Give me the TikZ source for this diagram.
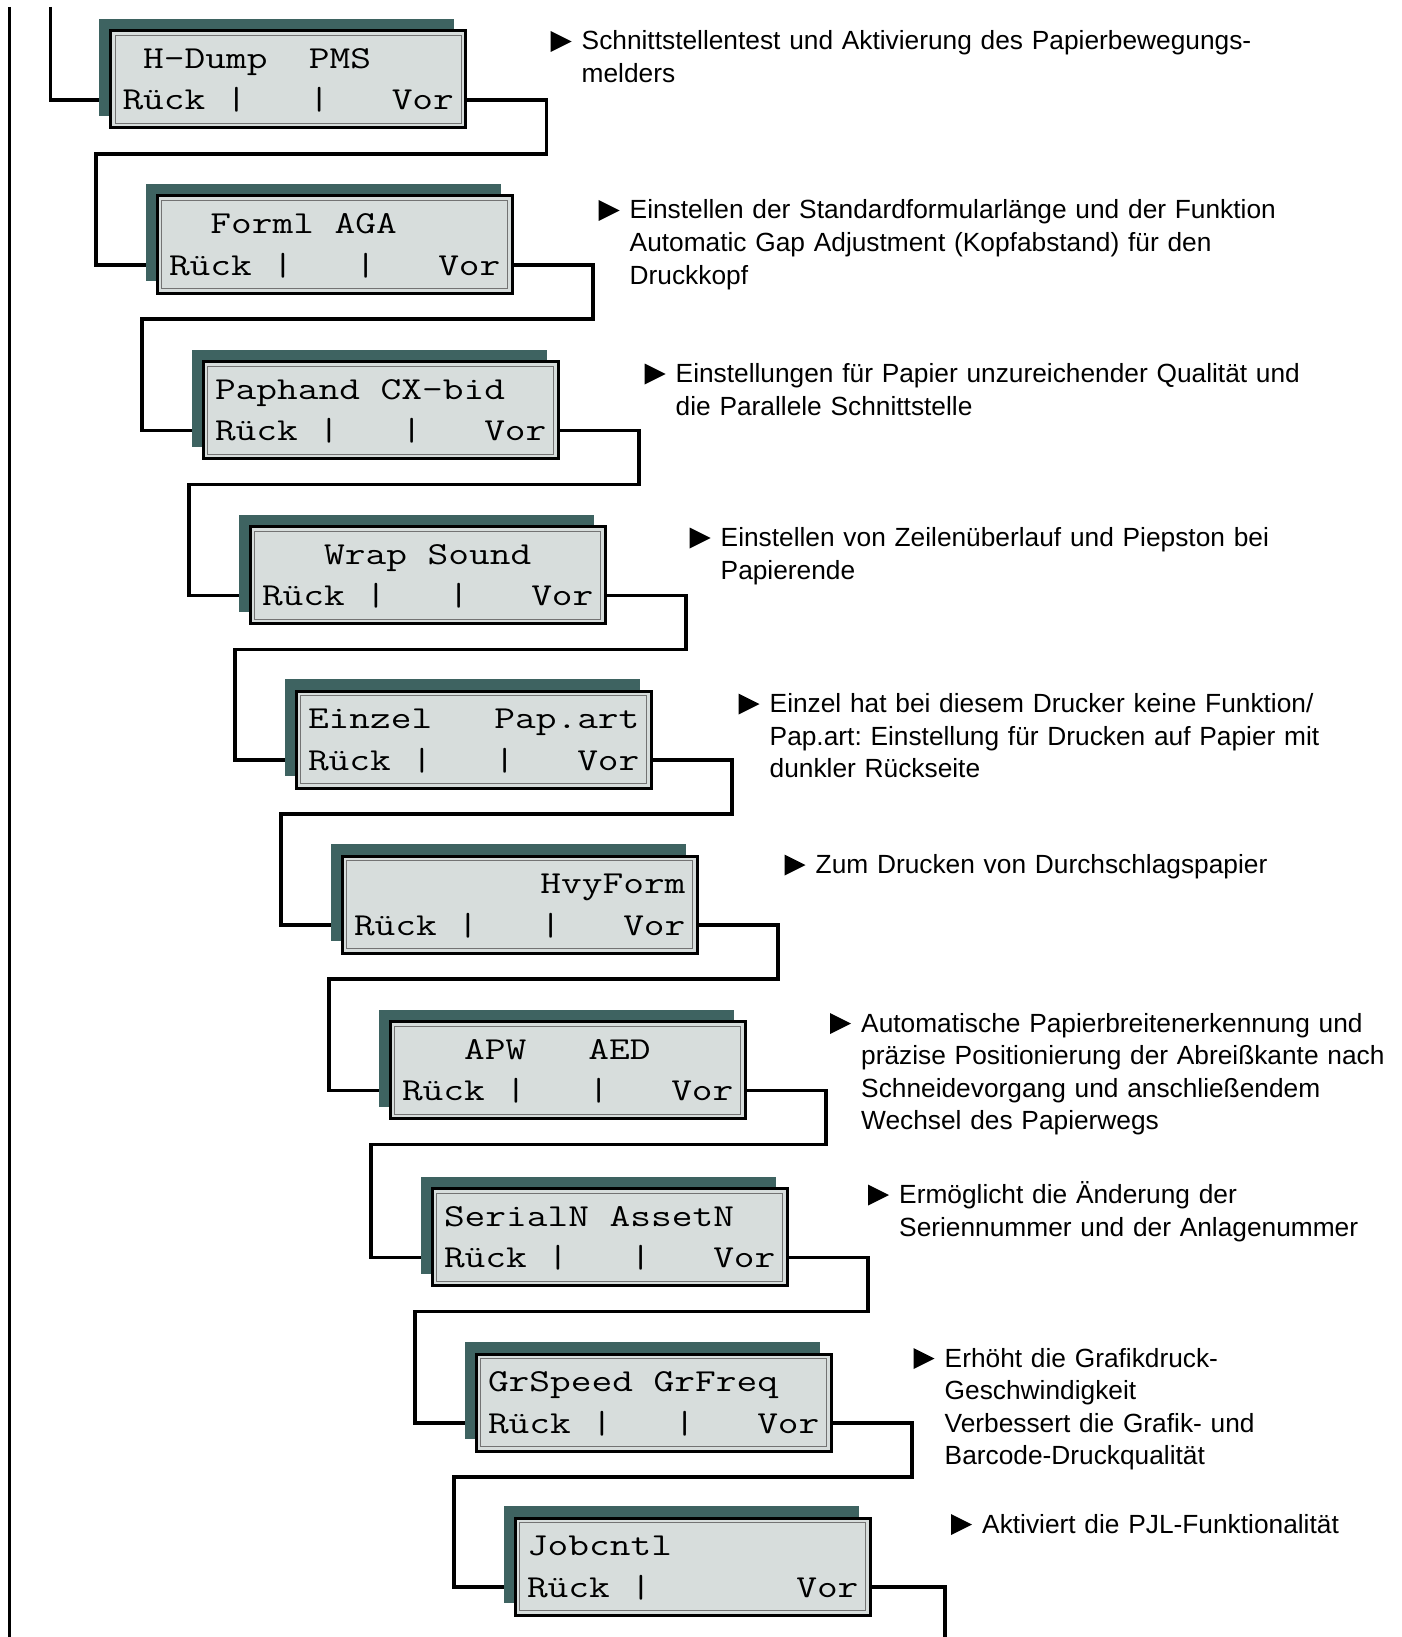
\documentclass[tikz,border=0pt]{standalone}
\usepackage{fontspec}
\usepackage{tikz}
\usetikzlibrary{calc,positioning,shadows}
\newfontfamily\lcdfont{Latin Modern Mono}[FakeStretch=1.257]
\newfontfamily\notefont{Liberation Sans}
\definecolor{lcdshadow}{RGB}{62,99,97}
\definecolor{lcdfill}{RGB}{215,221,220}
\newlength\lcdchar
\newcommand\lcdgap[1]{\hspace*{#1\lcdchar}}

\begin{document}
\begin{tikzpicture}[x=1pt, y=-1pt,
    lcd/.style={draw, line width=3pt, fill=lcdfill, anchor=north west,
        inner xsep=12pt, inner ysep=0pt, outer sep=0pt,
        text width=331pt, align=left, text height=37.5pt, text depth=59.5pt,
        font=\lcdfont\fontsize{32pt}{41.5pt}\selectfont\settowidth{\lcdchar}{0},
        general shadow={fill=lcdshadow, shadow xshift=-11.5pt, shadow yshift=12pt},
        path picture={\draw[line width=1pt, black!55]
            ([shift={(4.5pt,-4.5pt)}]path picture bounding box.north west) rectangle
            ([shift={(-4.5pt,4.5pt)}]path picture bounding box.south east);}},
    note/.style={anchor=base west, inner sep=0pt, text width=800pt, align=left,
        font=\notefont\fontsize{26.3pt}{32.6pt}\selectfont\frenchspacing},
    wire/.style={line width=3.5pt, line join=miter}]
        \useasboundingbox (0,0) rectangle (1401,1637);

        % Display panels
        \node[lcd] (b1) at (110.5,31) {\lcdgap1H-Dump\lcdgap2PMS\\Rück\lcdgap1|\lcdgap3|\lcdgap3Vor};
        \node[lcd] (b2) at (157,196) {\lcdgap2Forml\lcdgap1AGA\\Rück\lcdgap1|\lcdgap3|\lcdgap3Vor};
        \node[lcd] (b3) at (203,361.5) {Paphand\lcdgap1CX-bid\\Rück\lcdgap1|\lcdgap3|\lcdgap3Vor};
        \node[lcd] (b4) at (250,526.5) {\lcdgap3Wrap\lcdgap1Sound\\Rück\lcdgap1|\lcdgap3|\lcdgap3Vor};
        \node[lcd] (b5) at (296,691) {Einzel\lcdgap3Pap.art\\Rück\lcdgap1|\lcdgap3|\lcdgap3Vor};
        \node[lcd] (b6) at (342,856) {\mbox{\lcdgap9HvyForm}\\Rück\lcdgap1|\lcdgap3|\lcdgap3Vor};
        \node[lcd] (b7) at (390,1021.5) {\lcdgap3APW\lcdgap3AED\\Rück\lcdgap1|\lcdgap3|\lcdgap3Vor};
        \node[lcd] (b8) at (432,1188.5) {SerialN\lcdgap1AssetN\\Rück\lcdgap1|\lcdgap3|\lcdgap3Vor};
        \node[lcd] (b9) at (476,1354) {GrSpeed\lcdgap1GrFreq\\Rück\lcdgap1|\lcdgap3|\lcdgap3Vor};
        \node[lcd] (b10) at (515,1518) {Jobcntl\\Rück\lcdgap1|\lcdgap7Vor};

        % Free ends
        \coordinate (railtop) at (9.5,7);
        \coordinate (railbot) at (9.5,1637);
        \coordinate (intop) at (50.5,7);
        \coordinate (outbot) at ($(b10.north east)+(75,1637)$);

        % Connectors
        \draw[wire] (railtop) -- (railbot);
        \draw[wire] (intop) |- ($(b1.north west)+(-11.5,69)$);
        \draw[wire] ($(b1.north east)+(0,69)$) -| ++(81,54) -| ($(b2.north west)+(-61,69)$) -- ($(b2.north west)+(-11.5,69)$);
        \draw[wire] ($(b2.north east)+(0,69)$) -| ++(81,54) -| ($(b3.north west)+(-61,69)$) -- ($(b3.north west)+(-11.5,69)$);
        \draw[wire] ($(b3.north east)+(0,69)$) -| ++(81,54) -| ($(b4.north west)+(-61,69)$) -- ($(b4.north west)+(-11.5,69)$);
        \draw[wire] ($(b4.north east)+(0,69)$) -| ++(81,54) -| ($(b5.north west)+(-61,69)$) -- ($(b5.north west)+(-11.5,69)$);
        \draw[wire] ($(b5.north east)+(0,69)$) -| ++(81,54) -| ($(b6.north west)+(-61,69)$) -- ($(b6.north west)+(-11.5,69)$);
        \draw[wire] ($(b6.north east)+(0,69)$) -| ++(81,54) -| ($(b7.north west)+(-61,69)$) -- ($(b7.north west)+(-11.5,69)$);
        \draw[wire] ($(b7.north east)+(0,69)$) -| ++(81,54) -| ($(b8.north west)+(-61,69)$) -- ($(b8.north west)+(-11.5,69)$);
        \draw[wire] ($(b8.north east)+(0,69)$) -| ++(81,54) -| ($(b9.north west)+(-61,69)$) -- ($(b9.north west)+(-11.5,69)$);
        \draw[wire] ($(b9.north east)+(0,69)$) -| ++(81,54) -| ($(b10.north west)+(-61,69)$) -- ($(b10.north west)+(-11.5,69)$);
        \draw[wire] ($(b10.north east)+(0,69)$) -| (outbot);

        % Descriptions
        \node[note] (d1) at (581.5,50) {Schnittstellentest und Aktivierung des Papierbewegungs-\\melders};
        \node[note] (d2) at (629.5,219) {Einstellen der Standardformularlänge und der Funktion\\Automatic Gap Adjustment (Kopfabstand) für den\\Druckkopf};
        \node[note] (d3) at (675.5,382.5) {Einstellungen für Papier unzureichender Qualität und\\die Parallele Schnittstelle};
        \node[note] (d4) at (720.5,546.5) {Einstellen von Zeilenüberlauf und Piepston bei\\Papierende};
        \node[note] (d5) at (769.5,712.5) {Einzel hat bei diesem Drucker keine Funktion/\\Pap.art: Einstellung für Drucken auf Papier mit\\dunkler Rückseite};
        \node[note] (d6) at (815.5,873.5) {Zum Drucken von Durchschlagspapier};
        \node[note] (d7) at (861,1032) {Automatische Papierbreitenerkennung und\\präzise Positionierung der Abreißkante nach\\Schneidevorgang und anschließendem\\Wechsel des Papierwegs};
        \node[note] (d8) at (899,1203.5) {Ermöglicht die Änderung der\\Seriennummer und der Anlagenummer};
        \node[note] (d9) at (944.5,1367) {Erhöht die Grafikdruck-\\Geschwindigkeit\\Verbessert die Grafik- und\\Barcode-Druckqualität};
        \node[note] (d10) at (982,1533) {Aktiviert die PJL-Funktionalität};

        % Bullets
        \fill ($(d1.base west)+(-31,-19)$) -- ++(0,21) -- ++(21,-10.5) -- cycle;
        \fill ($(d2.base west)+(-31,-19)$) -- ++(0,21) -- ++(21,-10.5) -- cycle;
        \fill ($(d3.base west)+(-31,-19)$) -- ++(0,21) -- ++(21,-10.5) -- cycle;
        \fill ($(d4.base west)+(-31,-19)$) -- ++(0,21) -- ++(21,-10.5) -- cycle;
        \fill ($(d5.base west)+(-31,-19)$) -- ++(0,21) -- ++(21,-10.5) -- cycle;
        \fill ($(d6.base west)+(-31,-19)$) -- ++(0,21) -- ++(21,-10.5) -- cycle;
        \fill ($(d7.base west)+(-31,-19)$) -- ++(0,21) -- ++(21,-10.5) -- cycle;
        \fill ($(d8.base west)+(-31,-19)$) -- ++(0,21) -- ++(21,-10.5) -- cycle;
        \fill ($(d9.base west)+(-31,-19)$) -- ++(0,21) -- ++(21,-10.5) -- cycle;
        \fill ($(d10.base west)+(-31,-19)$) -- ++(0,21) -- ++(21,-10.5) -- cycle;
    \end{tikzpicture}
\end{document}
